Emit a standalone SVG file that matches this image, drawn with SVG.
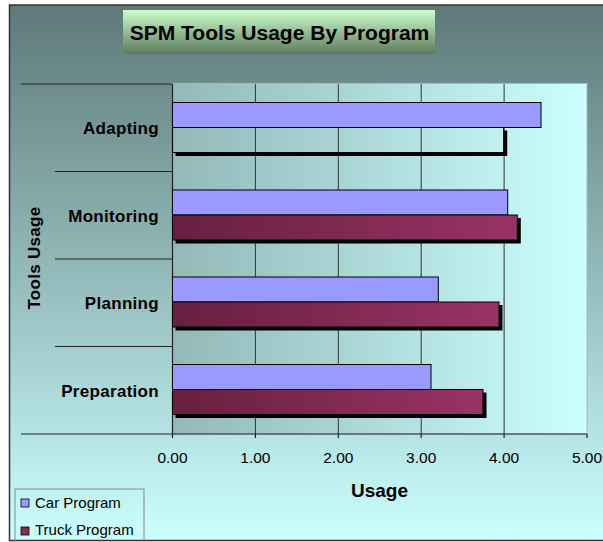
<svg xmlns="http://www.w3.org/2000/svg" width="603" height="542" viewBox="0 0 603 542">
<defs>
<linearGradient id="bgGrad" x1="0" y1="0" x2="0" y2="1">
<stop offset="0" stop-color="#5f7979"/>
<stop offset="0.5" stop-color="#93baba"/>
<stop offset="1" stop-color="#ccffff"/>
</linearGradient>
<linearGradient id="plotGrad" x1="0" y1="0" x2="1" y2="0">
<stop offset="0" stop-color="#93b8b8"/>
<stop offset="1" stop-color="#ccffff"/>
</linearGradient>
<linearGradient id="titleGrad" x1="0" y1="0" x2="0" y2="1">
<stop offset="0" stop-color="#ccffcc"/>
<stop offset="1" stop-color="#5e7b5e"/>
</linearGradient>
<linearGradient id="truckGrad" x1="0" y1="0" x2="1" y2="0">
<stop offset="0" stop-color="#66203f"/>
<stop offset="1" stop-color="#993366"/>
</linearGradient>
<style>
.lbl{font-family:"Liberation Sans",Arial,sans-serif;font-weight:bold;font-size:17px;fill:#000;text-anchor:end;letter-spacing:0.3px}
.tick{font-family:"Liberation Sans",Arial,sans-serif;font-size:15.5px;fill:#000;text-anchor:middle}
.leg{font-family:"Liberation Sans",Arial,sans-serif;font-size:15px;fill:#000}
.car{fill:#9999ff;stroke:#000;stroke-width:1}
.truck{fill:url(#truckGrad);stroke:#000;stroke-width:1}
.shadow{fill:#000}
.grid{stroke:#333;stroke-width:1}
.axis{stroke:#222;stroke-width:1.2}
</style>
</defs>
<rect x="9.5" y="5" width="600" height="535.5" fill="url(#bgGrad)" stroke="#333" stroke-width="1.5"/>
<g id="title">
<rect x="123" y="10" width="312" height="44" fill="url(#titleGrad)"/>
<text x="279.5" y="39.5" font-family="Liberation Sans, Arial, sans-serif" font-weight="bold" font-size="21" text-anchor="middle">SPM Tools Usage By Program</text>
</g>
<g id="plot">
<rect x="172.5" y="83.5" width="414.5" height="350.5" fill="url(#plotGrad)" stroke="#a8b8b8" stroke-width="1"/>
</g>
<g id="connectors">
<line class="grid" x1="255.4" y1="84" x2="255.4" y2="434"/>
<line class="grid" x1="338.3" y1="84" x2="338.3" y2="434"/>
<line class="grid" x1="421.2" y1="84" x2="421.2" y2="434"/>
<line class="grid" x1="504.1" y1="84" x2="504.1" y2="434"/>
<line class="axis" x1="172.5" y1="84" x2="172.5" y2="434"/>
<line class="axis" x1="21" y1="84" x2="172.5" y2="84"/>
<line class="axis" x1="55" y1="171.5" x2="172.5" y2="171.5"/>
<line class="axis" x1="55" y1="259" x2="172.5" y2="259"/>
<line class="axis" x1="55" y1="346.5" x2="172.5" y2="346.5"/>
<line class="axis" x1="21" y1="434" x2="587" y2="434"/>
<line class="axis" x1="172.5" y1="434" x2="172.5" y2="438"/>
<line class="axis" x1="255.4" y1="434" x2="255.4" y2="438"/>
<line class="axis" x1="338.3" y1="434" x2="338.3" y2="438"/>
<line class="axis" x1="421.2" y1="434" x2="421.2" y2="438"/>
<line class="axis" x1="504.1" y1="434" x2="504.1" y2="438"/>
<line class="axis" x1="587" y1="434" x2="587" y2="438"/>
</g>
<g id="adapting">
<rect class="car" x="172.5" y="102.5" width="368.5" height="25"/>
<path class="shadow" d="M503.7,130.5 H507.2 V156 H175.5 V152.5 H503.7 Z"/>
<rect x="172.5" y="127.5" width="331.2" height="25" fill="none" stroke="#000" stroke-width="1"/>
<text class="lbl" x="159" y="134">Adapting</text>
</g>
<g id="monitoring">
<rect class="car" x="172.5" y="190" width="335.2" height="25"/>
<path class="shadow" d="M517.3,218 H520.8 V243.5 H175.5 V240 H517.3 Z"/>
<rect class="truck" x="172.5" y="215" width="344.8" height="25"/>
<text class="lbl" x="159" y="221.5">Monitoring</text>
</g>
<g id="planning">
<rect class="car" x="172.5" y="277" width="265.8" height="25"/>
<path class="shadow" d="M499,305 H502.5 V330.5 H175.5 V327 H499 Z"/>
<rect class="truck" x="172.5" y="302" width="326.5" height="25"/>
<text class="lbl" x="159" y="309">Planning</text>
</g>
<g id="preparation">
<rect class="car" x="172.5" y="364.5" width="258.5" height="25"/>
<path class="shadow" d="M483,392.5 H486.5 V418 H175.5 V414.5 H483 Z"/>
<rect class="truck" x="172.5" y="389.5" width="310.5" height="25"/>
<text class="lbl" x="159" y="396.5">Preparation</text>
</g>
<g id="x-axis-labels">
<text class="tick" x="172.5" y="463">0.00</text>
<text class="tick" x="255.4" y="463">1.00</text>
<text class="tick" x="338.3" y="463">2.00</text>
<text class="tick" x="421.2" y="463">3.00</text>
<text class="tick" x="504.1" y="463">4.00</text>
<text class="tick" x="587" y="463">5.00</text>
<text x="379.5" y="496.5" font-family="Liberation Sans, Arial, sans-serif" font-weight="bold" font-size="19" text-anchor="middle">Usage</text>
</g>
<g id="y-axis-title">
<text transform="translate(40,258) rotate(-90)" font-family="Liberation Sans, Arial, sans-serif" font-weight="bold" font-size="17" text-anchor="middle" letter-spacing="0.3">Tools Usage</text>
</g>
<g id="legend">
<rect x="15" y="489" width="129" height="54" fill="#ccffff" fill-opacity="0" stroke="#888" stroke-width="1"/>
<rect x="21" y="499" width="8" height="8" fill="#9999ff" stroke="#000" stroke-width="0.8"/>
<text class="leg" x="35" y="507.5">Car Program</text>
<rect x="21" y="527" width="8" height="8" fill="#803050" stroke="#000" stroke-width="0.8"/>
<text class="leg" x="35" y="535">Truck Program</text>
</g>
</svg>
